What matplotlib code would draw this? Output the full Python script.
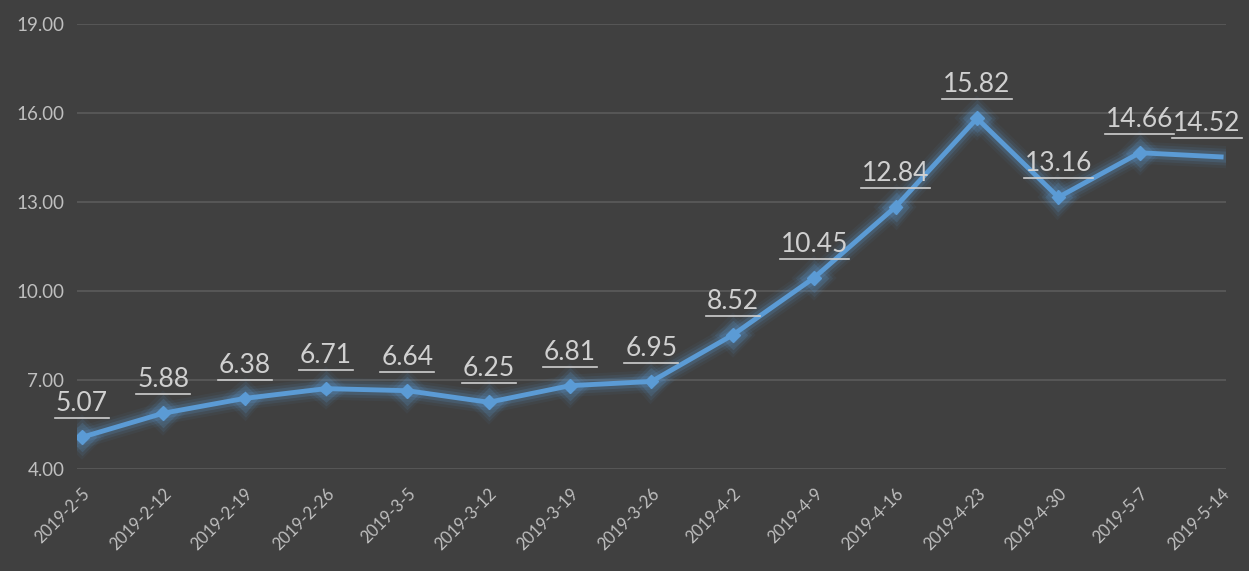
import matplotlib
matplotlib.use("Agg")
import matplotlib.pyplot as plt
import matplotlib.patheffects as pe
from matplotlib.lines import Line2D

dates = ["2019-2-5", "2019-2-12", "2019-2-19", "2019-2-26", "2019-3-5", "2019-3-12",
         "2019-3-19", "2019-3-26", "2019-4-2", "2019-4-9", "2019-4-16", "2019-4-23",
         "2019-4-30", "2019-5-7", "2019-5-14"]
values = [5.07, 5.88, 6.38, 6.71, 6.64, 6.25, 6.81, 6.95, 8.52, 10.45, 12.84, 15.82,
          13.16, 14.66, 14.52]
yticks = [4.0, 7.0, 10.0, 13.0, 16.0, 19.0]

BG = "#404040"
GRID = "#595959"
LINE = "#5B9BD5"
TICK = "#BFBFBF"
LABEL = "#D0D0D0"

plt.rcParams['font.family'] = ['Lato', 'DejaVu Sans']

fig = plt.figure(figsize=(12.49, 5.71), dpi=100, facecolor=BG)
ax = fig.add_axes([0.0616, 0.1786, 0.92, 0.7794])
ax.set_facecolor(BG)

x = list(range(len(dates)))
glow = [pe.Stroke(linewidth=16, foreground=LINE, alpha=0.06),
        pe.Stroke(linewidth=12, foreground=LINE, alpha=0.10),
        pe.Stroke(linewidth=8, foreground=LINE, alpha=0.18),
        pe.Normal()]
ax.plot(x, values, color=LINE, linewidth=3.5, marker='D', markersize=7,
        markerfacecolor=LINE, markeredgecolor=LINE, path_effects=glow,
        solid_joinstyle='round', zorder=3, markevery=list(range(len(values) - 1)))

ax.set_xlim(-0.06, len(dates) - 1 + 0.06)
ax.set_ylim(4, 19)
ax.set_yticks(yticks)
ax.set_yticklabels([f"{v:.2f}" for v in yticks], fontsize=13.5, color=TICK)
ax.yaxis.grid(True, color=GRID, linewidth=1.3)
ax.set_axisbelow(True)
ax.set_xticks(x)
ax.set_xticklabels(dates, rotation=45, ha='right', va='top', rotation_mode='anchor',
                   fontsize=12, color=TICK)
ax.tick_params(axis='both', length=0)
ax.tick_params(axis='y', pad=9)
ax.tick_params(axis='x', pad=12)
for s in ax.spines.values():
    s.set_visible(False)

texts = []
for i, v in enumerate(values):
    dx = 0
    if i == len(values) - 1:
        dx = -14
    t = ax.annotate(f"{v:.2f}", (i, v), xytext=(dx * 0.72, 24), textcoords='offset points',
                    ha='center', va='center', fontsize=19, color=LABEL, zorder=5)
    texts.append(t)

fig.canvas.draw()
r = fig.canvas.get_renderer()
for t in texts:
    bb = t.get_window_extent(r)
    y = bb.y0 - 2
    fig.add_artist(Line2D([(bb.x0 - 1) / fig.bbox.width, (bb.x1 + 1) / fig.bbox.width],
                          [y / fig.bbox.height, y / fig.bbox.height],
                          color=LABEL, linewidth=1.2))

fig.savefig("out.png", dpi=100, facecolor=BG)
